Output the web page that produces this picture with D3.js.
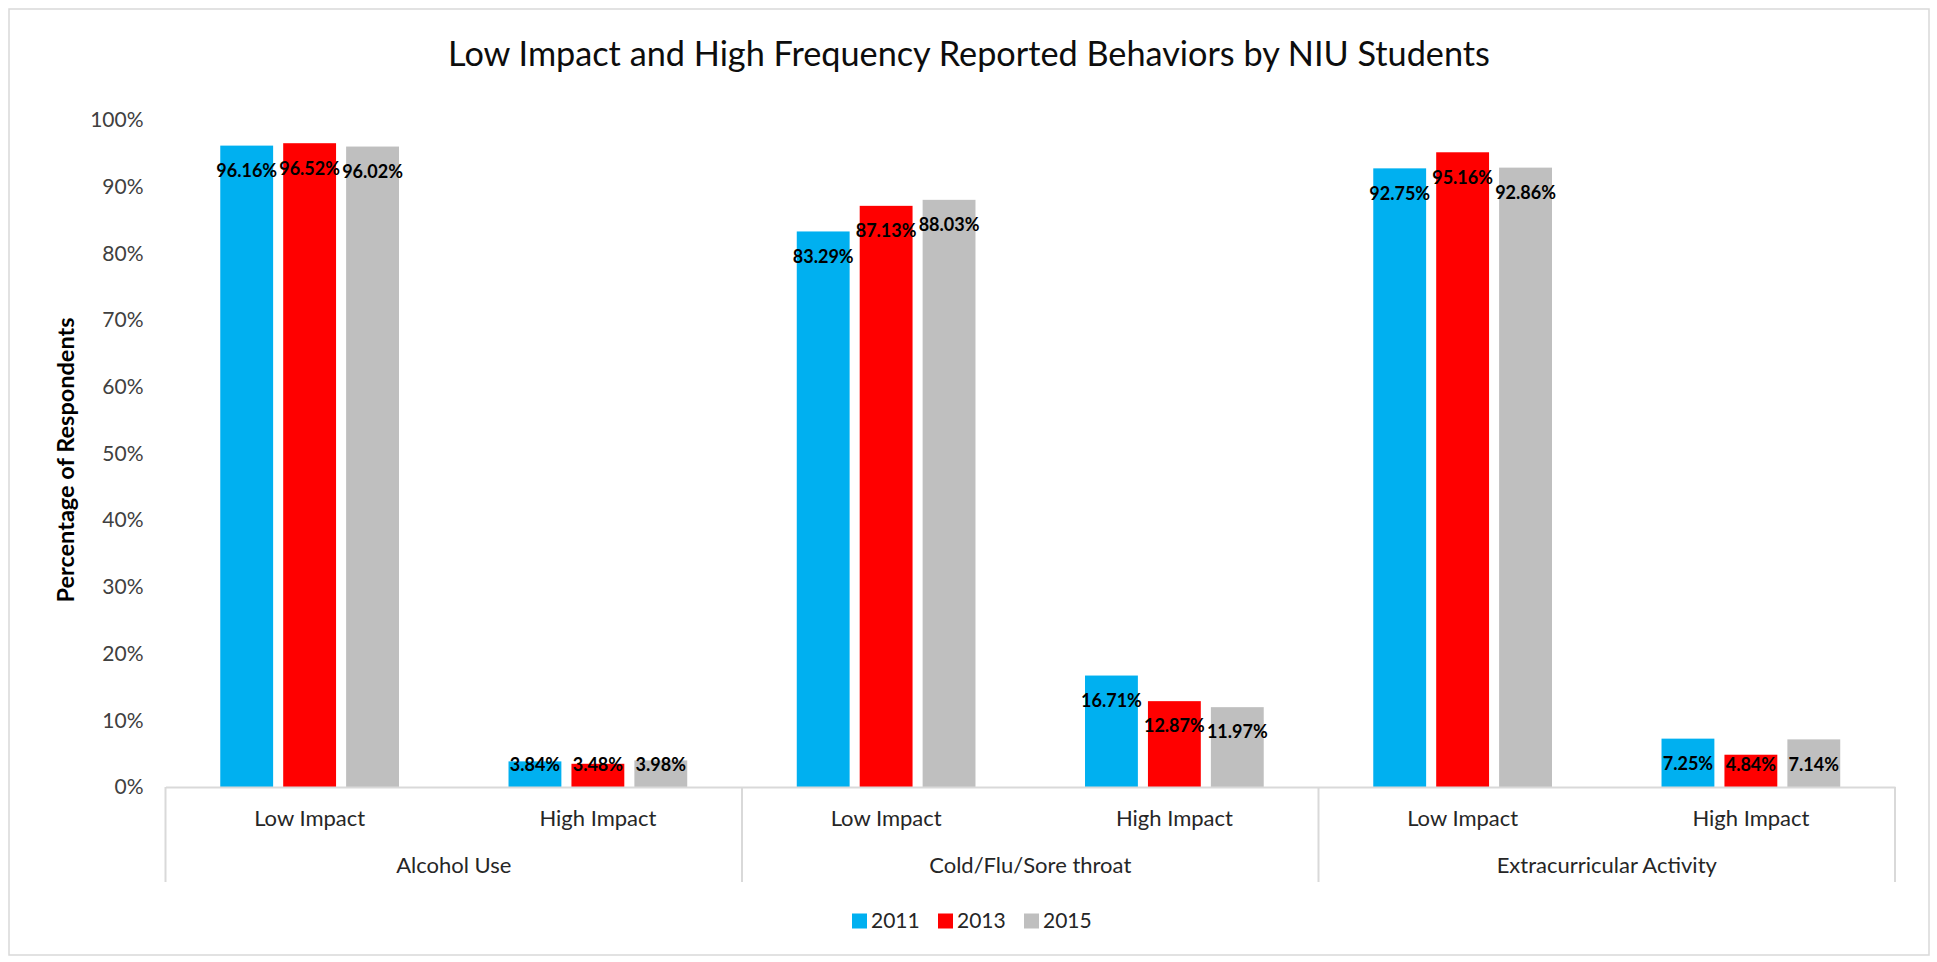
<!DOCTYPE html>
<html>
<head>
<meta charset="utf-8">
<script src="https://cdn.jsdelivr.net/npm/d3@7"></script>
<style>
  body { margin: 0; background: #fff; }
  text { font-family: Lato, Carlito, Calibri, sans-serif; }
</style>
</head>
<body>
<div id="chart"></div>
<script>
// grouped bar chart, three survey years per impact level
var groups = ["Alcohol Use", "Cold/Flu/Sore throat", "Extracurricular Activity"];
var impacts = ["Low Impact", "High Impact"];
var years = ["2011", "2013", "2015"];
var yearColors = ["#00B0F0", "#FF0000", "#BFBFBF"];

// percent values, order: alcohol low/high, cold low/high, extra low/high
var values2011 = [96.16, 3.84, 83.29, 16.71, 92.75, 7.25];
var values2013 = [96.52, 3.48, 87.13, 12.87, 95.16, 4.84];
var values2015 = [96.02, 3.98, 88.03, 11.97, 92.86, 7.14];

var yTicks = [0, 10, 20, 30, 40, 50, 60, 70, 80, 90, 100];

var svgWidth = 1937;
var svgHeight = 962;

var margin = {
    top: 120,
    right: 42,
    bottom: 175,
    left: 165.5
};

var width = svgWidth - margin.left - margin.right;
var height = svgHeight - margin.top - margin.bottom;

var svg = d3.select("#chart")
    .append("svg")
    .attr("width", svgWidth)
    .attr("height", svgHeight);

// outer frame
svg.append("rect")
    .attr("x", 9)
    .attr("y", 9)
    .attr("width", svgWidth - 17)
    .attr("height", svgHeight - 16)
    .attr("fill", "#fff")
    .attr("stroke", "#d9d9d9")
    .attr("stroke-width", 1.5);

var chartGroup = svg.append("g")
    .attr("transform", `translate(${margin.left}, ${margin.top})`);

// build rows from the arrays
var seriesValues = [values2011, values2013, values2015];
var rows = [];
groups.forEach(function(g, gi) {
    impacts.forEach(function(imp, ii) {
        var idx = gi * impacts.length + ii;
        rows.push({
            key: g + "|" + imp,
            group: g,
            impact: imp,
            vals: years.map(function(y, yi) {
                return { year: y, value: seriesValues[yi][idx] };
            })
        });
    });
});

// scales
var x0 = d3.scaleBand()
    .domain(rows.map(d => d.key))
    .range([0, width]);

var xGroup = d3.scaleBand()
    .domain(groups)
    .range([0, width]);

var x1 = d3.scaleBand()
    .domain(years)
    .range([x0.bandwidth() * 0.19, x0.bandwidth() * 0.81])
    .paddingInner(0.16);

var yLinearScale = d3.scaleLinear()
    .domain([0, 100])
    .range([height, 0]);

var color = d3.scaleOrdinal()
    .domain(years)
    .range(yearColors);

// y axis, labels only
var leftAxis = d3.axisLeft(yLinearScale)
    .tickValues(yTicks)
    .tickSize(0)
    .tickPadding(22)
    .tickFormat(d => d + "%");

var yAxis = chartGroup.append("g")
    .call(leftAxis);
yAxis.select(".domain").remove();
yAxis.selectAll("text")
    .attr("font-size", 21)
    .attr("fill", "#404040")
    .style("font-family", "Lato, Carlito, Calibri, sans-serif");

// bars
var catGroups = chartGroup.selectAll(".cat")
    .data(rows)
    .enter()
    .append("g")
    .attr("class", "cat")
    .attr("transform", d => `translate(${x0(d.key)}, 0)`);

catGroups.selectAll("rect")
    .data(d => d.vals)
    .enter()
    .append("rect")
    .attr("x", d => x1(d.year))
    .attr("y", d => yLinearScale(d.value))
    .attr("width", x1.bandwidth())
    .attr("height", d => height - yLinearScale(d.value))
    .attr("fill", d => color(d.year));

// data labels just inside the bar end
catGroups.selectAll(".valLabel")
    .data(d => d.vals)
    .enter()
    .append("text")
    .attr("class", "valLabel")
    .attr("x", d => x1(d.year) + x1.bandwidth() / 2)
    .attr("y", d => Math.min(yLinearScale(d.value) + 25, height - 22))
    .attr("dy", "0.35em")
    .attr("text-anchor", "middle")
    .attr("font-size", 18)
    .attr("font-weight", "bold")
    .attr("fill", "#000")
    .text(d => d.value.toFixed(2) + "%");

// category axis
var bottomAxis = d3.axisBottom(x0)
    .tickSize(0)
    .tickSizeOuter(0)
    .tickFormat(d => d.split("|")[1]);

var xAxis = chartGroup.append("g")
    .attr("transform", `translate(0, ${height})`)
    .call(bottomAxis);
xAxis.select(".domain")
    .attr("stroke", "#d9d9d9")
    .attr("stroke-width", 2);
xAxis.selectAll("text")
    .attr("y", 31)
    .attr("dy", "0.35em")
    .attr("font-size", 22)
    .attr("fill", "#262626")
    .style("font-family", "Lato, Carlito, Calibri, sans-serif");

// group separators
var sepX = groups.map(g => xGroup(g)).concat([width]);
chartGroup.selectAll(".sep")
    .data(sepX)
    .enter()
    .append("line")
    .attr("class", "sep")
    .attr("x1", d => d)
    .attr("x2", d => d)
    .attr("y1", height)
    .attr("y2", height + 95)
    .attr("stroke", "#d9d9d9")
    .attr("stroke-width", 2);

// group labels
chartGroup.selectAll(".groupLabel")
    .data(groups)
    .enter()
    .append("text")
    .attr("class", "groupLabel")
    .attr("x", d => xGroup(d) + xGroup.bandwidth() / 2)
    .attr("y", height + 78)
    .attr("dy", "0.35em")
    .attr("text-anchor", "middle")
    .attr("font-size", 22)
    .attr("fill", "#262626")
    .text(d => d);

// y title
svg.append("text")
    .attr("transform", "translate(66, 460) rotate(-90)")
    .attr("text-anchor", "middle")
    .attr("dy", "0.35em")
    .attr("font-size", 23.5)
    .attr("font-weight", "bold")
    .attr("fill", "#000")
    .text("Percentage of Respondents");

// title, sized to the reference width
var title = svg.append("text")
    .attr("x", 969)
    .attr("y", 54)
    .attr("dy", "0.35em")
    .attr("text-anchor", "middle")
    .attr("font-size", 30)
    .attr("fill", "#0d0d0d")
    .text("Low Impact and High Frequency Reported Behaviors by NIU Students");
var tLen = title.node().getComputedTextLength();
title.attr("font-size", 30 * 1042 / tLen);

// legend
var legend = svg.append("g")
    .attr("transform", "translate(852, 921)");

var legendItems = legend.selectAll(".item")
    .data(years)
    .enter()
    .append("g")
    .attr("class", "item")
    .attr("transform", (d, i) => `translate(${i * 86}, 0)`);

legendItems.append("rect")
    .attr("x", 0)
    .attr("y", -7.5)
    .attr("width", 15)
    .attr("height", 15)
    .attr("fill", d => color(d));

legendItems.append("text")
    .attr("x", 19)
    .attr("y", 0)
    .attr("dy", "0.35em")
    .attr("font-size", 21)
    .attr("fill", "#262626")
    .text(d => d);
</script>
</body>
</html>
